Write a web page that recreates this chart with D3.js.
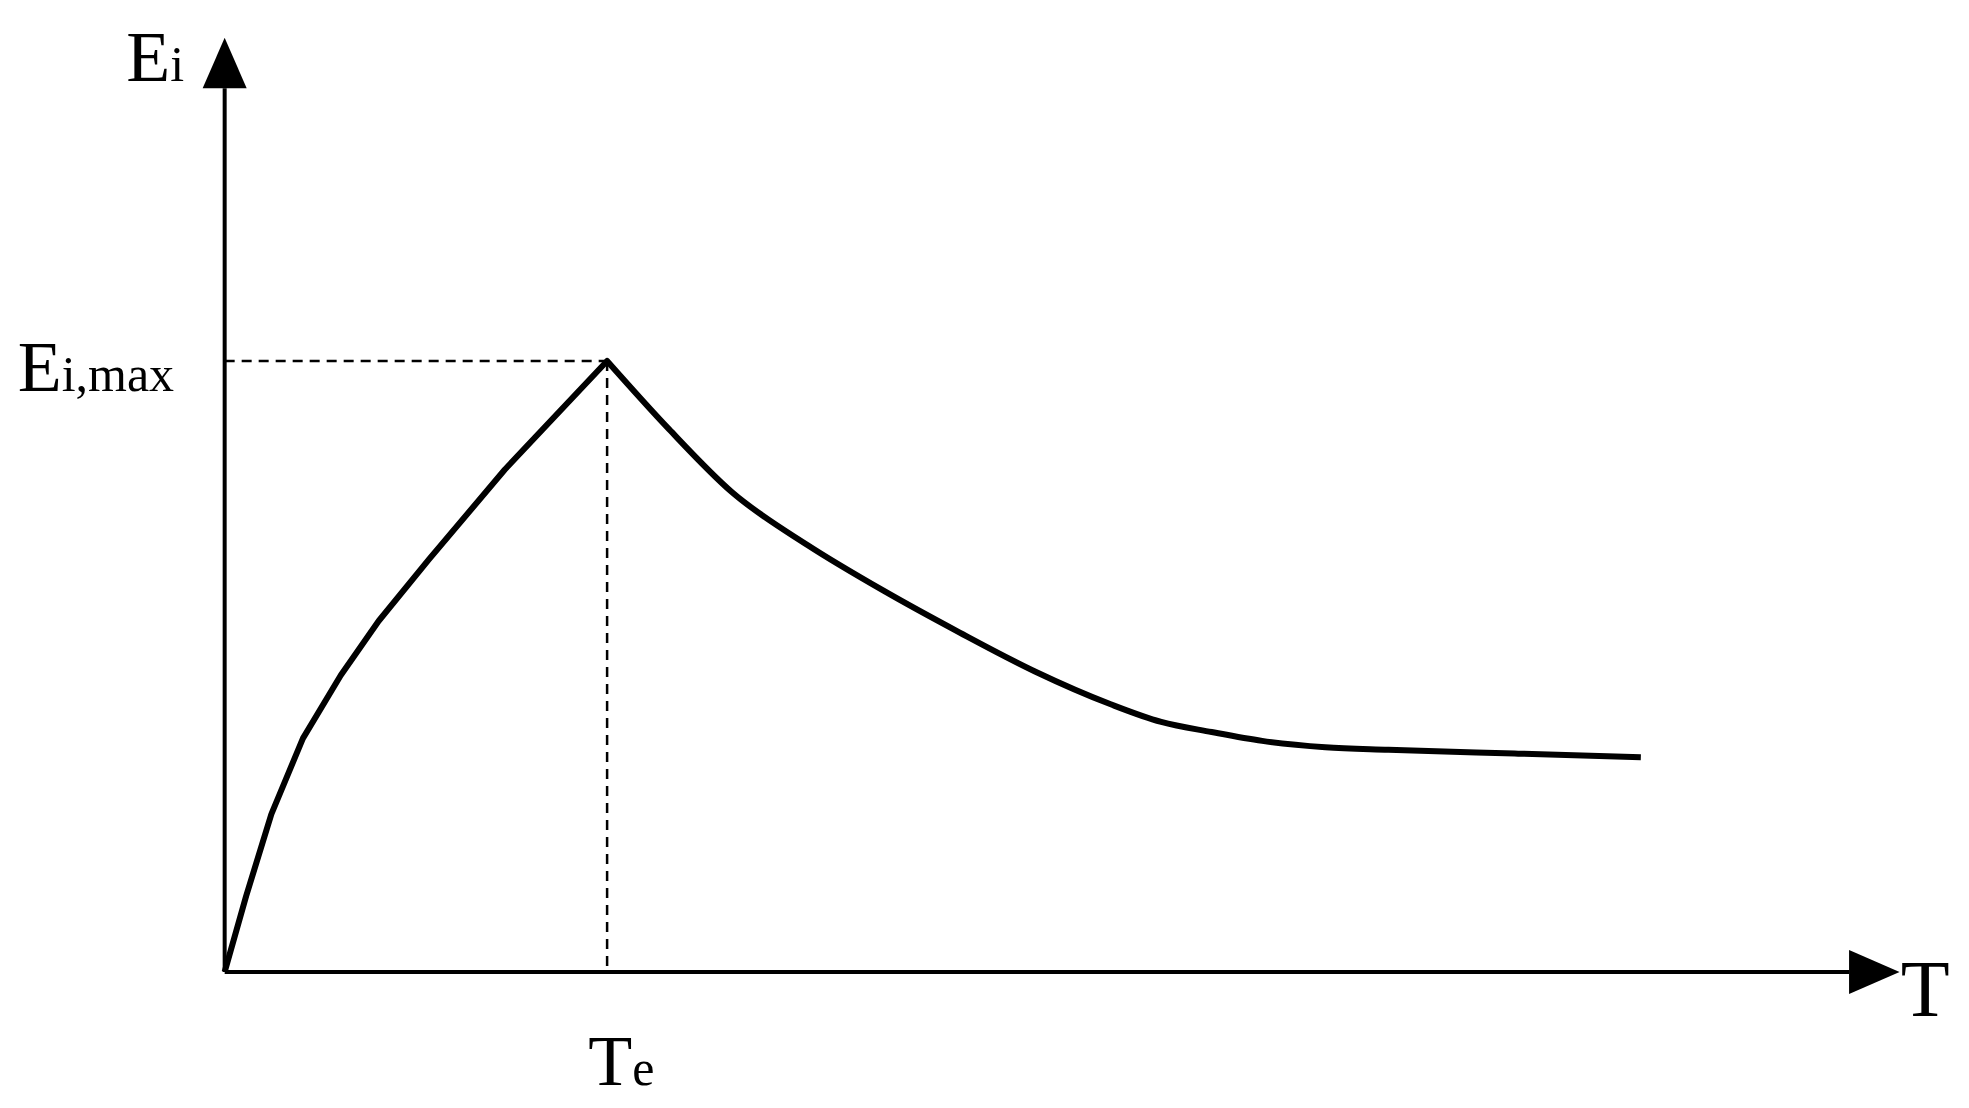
<!DOCTYPE html>
<html><head><meta charset="utf-8">
<script src="https://cdn.jsdelivr.net/npm/d3@7"></script>
<style>body{margin:0;background:#fff}text{font-family:"Liberation Serif","DejaVu Serif",serif;fill:#000}</style>
</head><body>
<script>
// curve readings: time since start and energy above the axis
var tVals = [0, 17, 37, 62, 92, 122, 162, 222, 303, 352, 402, 462, 522, 582, 642, 702, 742, 782, 822, 872, 922, 1022, 1122];
var eVals = [0, 60, 125, 185, 235, 278, 327, 398, 484, 430, 380, 338, 302, 269, 238, 212, 198, 190, 183, 178, 176, 173, 170];
var tePeak = 303, eMax = 484;

var W = 1969, H = 1108, s = W / 1560;
var svg = d3.select("body").append("svg").attr("width", W).attr("height", H);
var x = d3.scaleLinear().domain([0, 1287]).range([178 * s, 1465 * s]);
var y = d3.scaleLinear().domain([0, 700]).range([770 * s, 70 * s]);

// axes
svg.append("line").attr("x1", x(0)).attr("x2", x(1287)).attr("y1", y(0)).attr("y2", y(0)).attr("stroke", "#000").attr("stroke-width", 4);
svg.append("line").attr("x1", x(0)).attr("x2", x(0)).attr("y1", y(0)).attr("y2", y(700)).attr("stroke", "#000").attr("stroke-width", 4);
svg.append("path").attr("d", d3.line()([[x(1287), y(0) - 22], [1505 * s, y(0)], [x(1287), y(0) + 22]]) + "Z");
svg.append("path").attr("d", d3.line()([[x(0) - 22, y(700)], [x(0), 30 * s], [x(0) + 22, y(700)]]) + "Z");

// dashed guides
svg.append("line").attr("x1", x(0)).attr("x2", x(tePeak)).attr("y1", y(eMax)).attr("y2", y(eMax))
  .attr("stroke", "#000").attr("stroke-width", 2.5).attr("stroke-dasharray", "10,7");
svg.append("line").attr("x1", x(tePeak)).attr("x2", x(tePeak)).attr("y1", y(eMax)).attr("y2", y(0))
  .attr("stroke", "#000").attr("stroke-width", 2.5).attr("stroke-dasharray", "10,7");

// curve
var pts = tVals.map(function(t, i) { return [x(t), y(eVals[i])]; });
svg.append("path").attr("d", d3.line()(pts.slice(0, 9)).toString() + d3.line().curve(d3.curveMonotoneX)(pts.slice(8)).replace("M", "L"))
  .attr("fill", "none").attr("stroke", "#000").attr("stroke-width", 6).attr("stroke-linejoin", "round");

function label(px, py, main, sub) {
  var t = svg.append("text").attr("x", px).attr("y", py).attr("font-size", 72);
  t.append("tspan").text(main);
  t.append("tspan").attr("font-size", 50).text(sub);
  return t;
}
label(100 * s, 64 * s, "E", "i");
label(14 * s, 310 * s, "E", "i,max");
label(466 * s, 860 * s, "T", "e");
svg.append("text").attr("x", 1506 * s).attr("y", 805 * s).attr("font-size", 80).text("T");
</script>
</body></html>
